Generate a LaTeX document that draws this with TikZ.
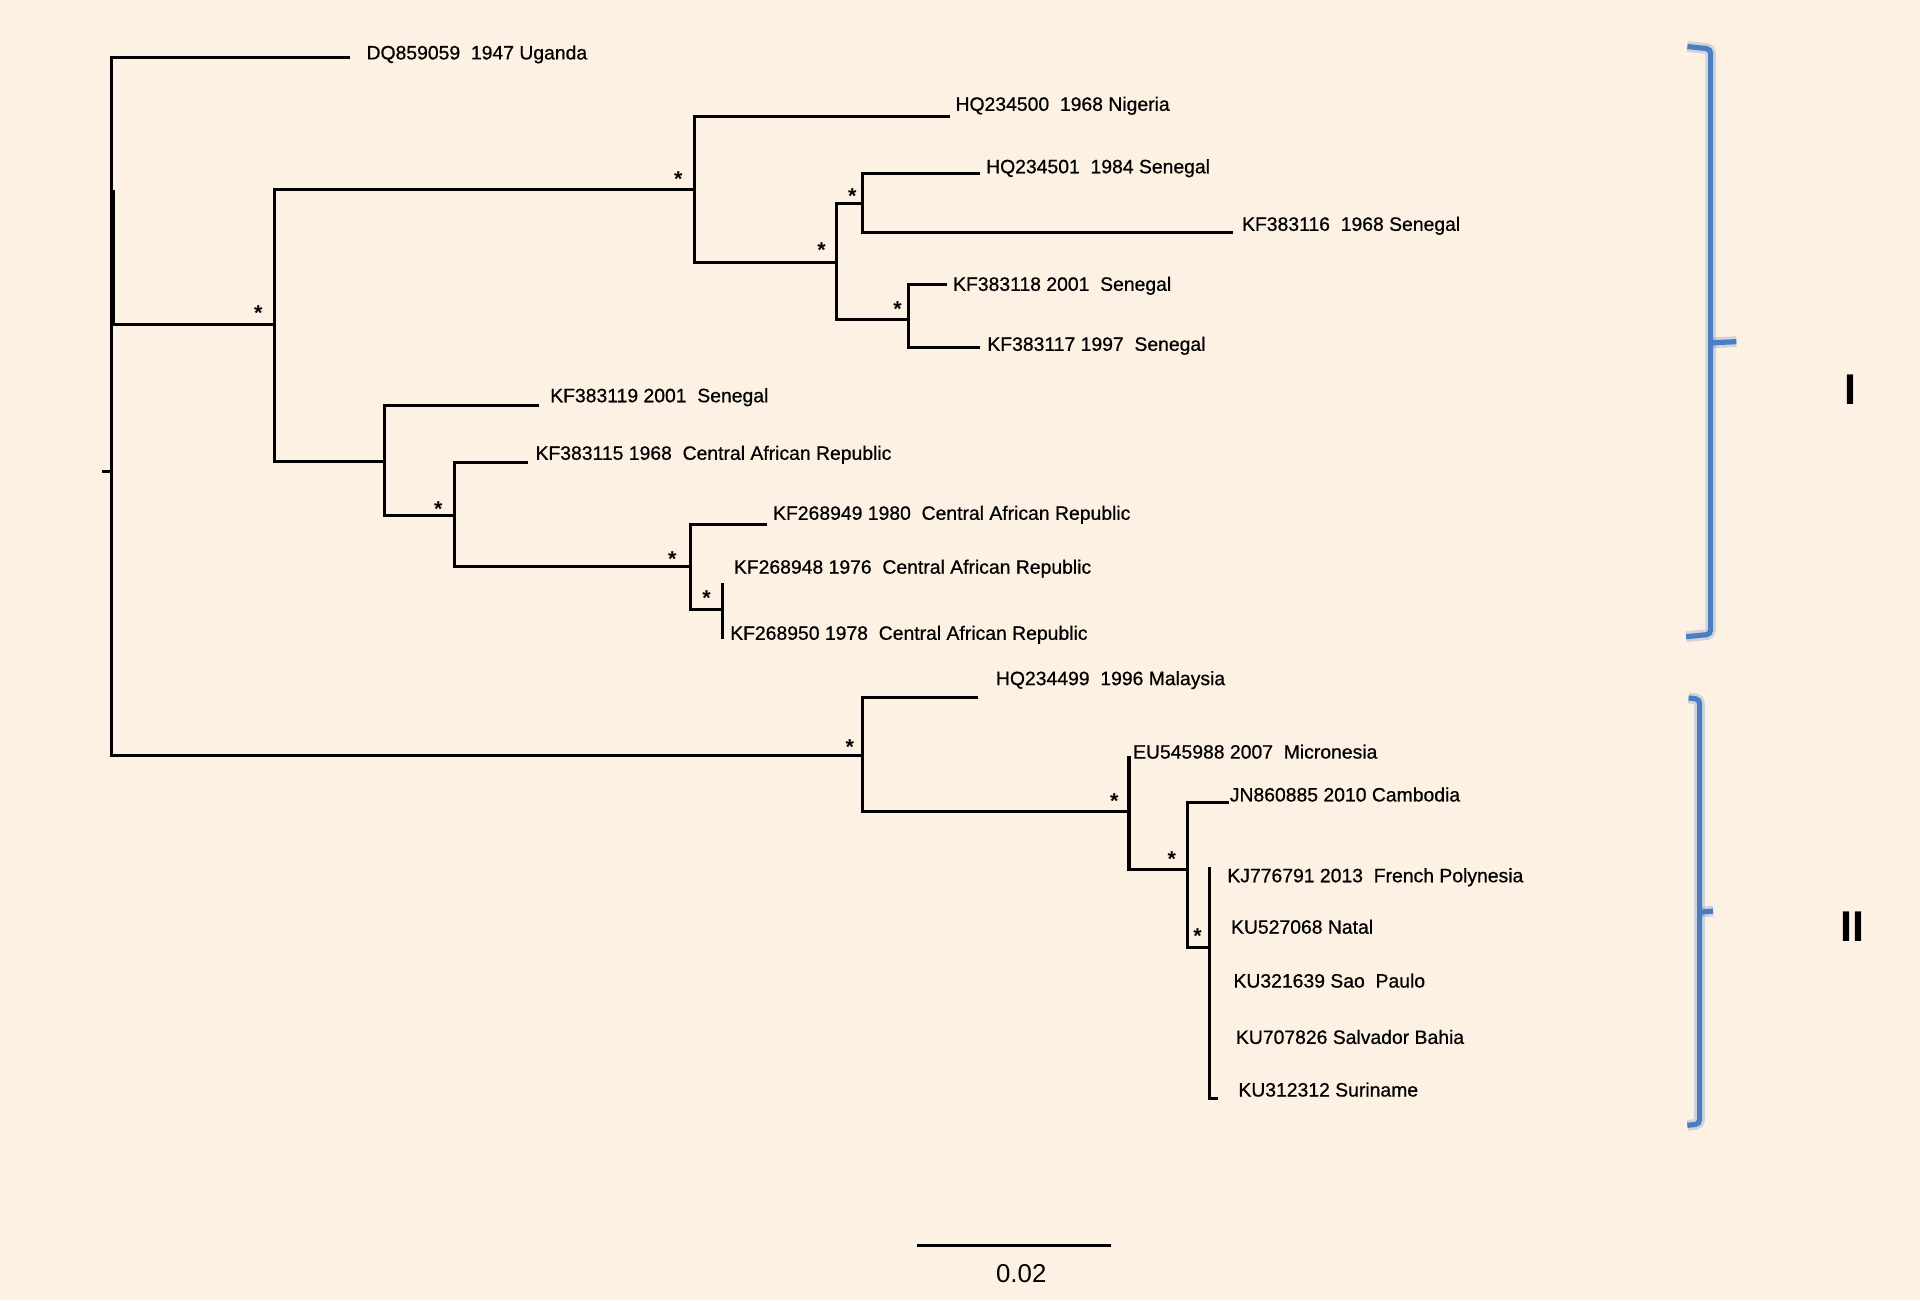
\documentclass[tikz,border=0pt]{standalone}
\usepackage{fontspec}
\setmainfont{Liberation Sans}
\newfontfamily\taxonfont[FakeBold=0.7]{Liberation Sans}
\usetikzlibrary{positioning,calc}
\definecolor{paper}{HTML}{FDF1E3}
\definecolor{cladeblue}{HTML}{4A7DC2}

\begin{document}
\begin{tikzpicture}[
            x=0.02cm, y=-0.02cm,
            branch/.style={
                draw=black,
                line width=1.4pt
            },
            taxon/.style={
                anchor=base west,
                inner sep=0pt,
                font=\taxonfont\fontsize{9}{10}\selectfont
            },
            support/.style={
                inner sep=0pt,
                font=\bfseries\fontsize{10}{11}\selectfont
            },
            bracket/.style={
                cladeblue,
                line width=2.4pt,
                rounded corners=2pt
            },
            glow/.style={
                bracket,
                line width=5pt,
                opacity=0.25
            },
            clade/.style={
                font=\bfseries\fontsize{20}{22}\selectfont
            },
        ]

            \fill[paper] (0,0) rectangle (1568,1062);
            \useasboundingbox (0,0) rectangle (1568,1062);

            % internal nodes
            \coordinate (root) at (91,385);
            \coordinate (stub) at (83,385);
            \coordinate (nA) at (224,265);
            \coordinate (nB) at (567,155);
            \coordinate (nC) at (683,214);
            \coordinate (nD) at (704,166);
            \coordinate (nE) at (742,261);
            \coordinate (nF) at (314,377);
            \coordinate (nG) at (371,421);
            \coordinate (nH) at (564,463);
            \coordinate (nJ) at (590,498);
            \coordinate (nK) at (704,617);
            \coordinate (nL) at (922,663);
            \coordinate (nM) at (970,710);
            \coordinate (nN) at (988,774);

            % tips
            \coordinate (DQ859059) at (286,47);
            \coordinate (HQ234500) at (776,95);
            \coordinate (HQ234501) at (800,142);
            \coordinate (KF383116) at (1007,190);
            \coordinate (KF383118) at (773,232);
            \coordinate (KF383117) at (800,284);
            \coordinate (KF383119) at (440,331);
            \coordinate (KF383115) at (431,378);
            \coordinate (KF268949) at (626,428);
            \coordinate (KF268948) at (590,476);
            \coordinate (KF268950) at (590,522);
            \coordinate (HQ234499) at (799,570);
            \coordinate (EU545988) at (922,617);
            \coordinate (JN860885) at (1004,655);
            \coordinate (KJ776791) at (988,708);
            \coordinate (KU312312) at (995,897);

            \draw[branch] (stub) -- (root);
            \draw[branch] (root) |- (DQ859059);
            \draw[branch] (root) |- (nA);
            \draw[branch] (root) |- (nK);
            \coordinate (rootT) at (92.5,155);
            \coordinate (rootB) at (92.5,265);
            \draw[branch, line width=2pt] (rootT) -- (rootB);

            \draw[branch] (nA) |- (nB);
            \draw[branch] (nA) |- (nF);
            \draw[branch] (nB) |- (HQ234500);
            \draw[branch] (nB) |- (nC);
            \draw[branch] (nC) |- (nD);
            \draw[branch] (nC) |- (nE);
            \draw[branch] (nD) |- (HQ234501);
            \draw[branch] (nD) |- (KF383116);
            \draw[branch] (nE) |- (KF383118);
            \draw[branch] (nE) |- (KF383117);
            \draw[branch] (nF) |- (KF383119);
            \draw[branch] (nF) |- (nG);
            \draw[branch] (nG) |- (KF383115);
            \draw[branch] (nG) |- (nH);
            \draw[branch] (nH) |- (KF268949);
            \draw[branch] (nH) |- (nJ);
            \draw[branch] (nJ) |- (KF268948);
            \draw[branch] (nJ) |- (KF268950);

            \draw[branch] (nK) |- (HQ234499);
            \draw[branch] (nK) |- (nL);
            \draw[branch] (nL) |- (EU545988);
            \draw[branch] (nL) |- (nM);
            \draw[branch] (nM) |- (JN860885);
            \draw[branch] (nM) |- (nN);
            \draw[branch] (nN) |- (KJ776791);
            \draw[branch] (nN) |- (KU312312);

            % bootstrap marks
            \node[support] (sA) at ($(nA)+(-13,-9.5)$) {*};
            \node[support] (sB) at ($(nB)+(-13,-8.5)$) {*};
            \node[support] (sC) at ($(nC)+(-12,-9.5)$) {*};
            \node[support] (sD) at ($(nD)+(-8,-5.5)$) {*};
            \node[support] (sE) at ($(nE)+(-9,-8.5)$) {*};
            \node[support] (sG) at ($(nG)+(-13,-5.5)$) {*};
            \node[support] (sH) at ($(nH)+(-15,-6.5)$) {*};
            \node[support] (sJ) at ($(nJ)+(-13,-9.5)$) {*};
            \node[support] (sK) at ($(nK)+(-10,-6.5)$) {*};
            \node[support] (sL) at ($(nL)+(-12,-8.5)$) {*};
            \node[support] (sM) at ($(nM)+(-13,-8.5)$) {*};
            \node[support] (sN) at ($(nN)+(-10,-9.5)$) {*};

            % taxa
            \node[taxon] (lDQ859059) at (299,48.5) {DQ859059\ \ 1947 Uganda};
            \node[taxon] (lHQ234500) at (780,90.5) {HQ234500\ \ 1968 Nigeria};
            \node[taxon] (lHQ234501) at (805,141.5) {HQ234501\ \ 1984 Senegal};
            \node[taxon] (lKF383116) at (1014,188.5) {KF383116\ \ 1968 Senegal};
            \node[taxon] (lKF383118) at (778,237.5) {KF383118 2001\ \ Senegal};
            \node[taxon] (lKF383117) at (806,286.5) {KF383117 1997\ \ Senegal};
            \node[taxon] (lKF383119) at (449,328.5) {KF383119 2001\ \ Senegal};
            \node[taxon] (lKF383115) at (437,375.5) {KF383115 1968\ \ Central African Republic};
            \node[taxon] (lKF268949) at (631,424.5) {KF268949 1980\ \ Central African Republic};
            \node[taxon] (lKF268948) at (599,468.5) {KF268948 1976\ \ Central African Republic};
            \node[taxon] (lKF268950) at (596,522.5) {KF268950 1978\ \ Central African Republic};
            \node[taxon] (lHQ234499) at (813,559.5) {HQ234499\ \ 1996 Malaysia};
            \node[taxon] (lEU545988) at (925,619.5) {EU545988 2007\ \ Micronesia};
            \node[taxon] (lJN860885) at (1004,654.5) {JN860885 2010 Cambodia};
            \node[taxon] (lKJ776791) at (1002,720.5) {KJ776791 2013\ \ French Polynesia};
            \node[taxon] (lKU527068) at (1005,762.5) {KU527068 Natal};
            \node[taxon] (lKU321639) at (1007,806.5) {KU321639 Sao\ \ Paulo};
            \node[taxon] (lKU707826) at (1009,852.5) {KU707826 Salvador Bahia};
            \node[taxon] (lKU312312) at (1011,895.5) {KU312312 Suriname};

            % clades
            \draw[glow] (1378,38) -- (1397,40) -- (1397,518) -- (1377,520);
            \draw[glow] (1397,280) -- (1418,279);
            \draw[bracket] (1378,38) -- (1397,40) -- (1397,518) -- (1377,520);
            \draw[bracket] (1397,280) -- (1418,279);
            \draw[glow] (1379,570) -- (1388,571) -- (1388,918) -- (1378,919);
            \draw[glow] (1388,745) -- (1399,744);
            \draw[bracket] (1379,570) -- (1388,571) -- (1388,918) -- (1378,919);
            \draw[bracket] (1388,745) -- (1399,744);
            \node[clade] (cladeI) at (1511,318) {I};
            \node[clade] (cladeII) at (1513,757) {II};

            % scale bar
            \coordinate (sbL) at (749,1017);
            \coordinate (sbR) at (907,1017);
            \draw[branch] (sbL) -- (sbR);
            \node[font=\fontsize{12}{14}\selectfont] (sbval) at (834,1040) {0.02};
        \end{tikzpicture}
\end{document}
